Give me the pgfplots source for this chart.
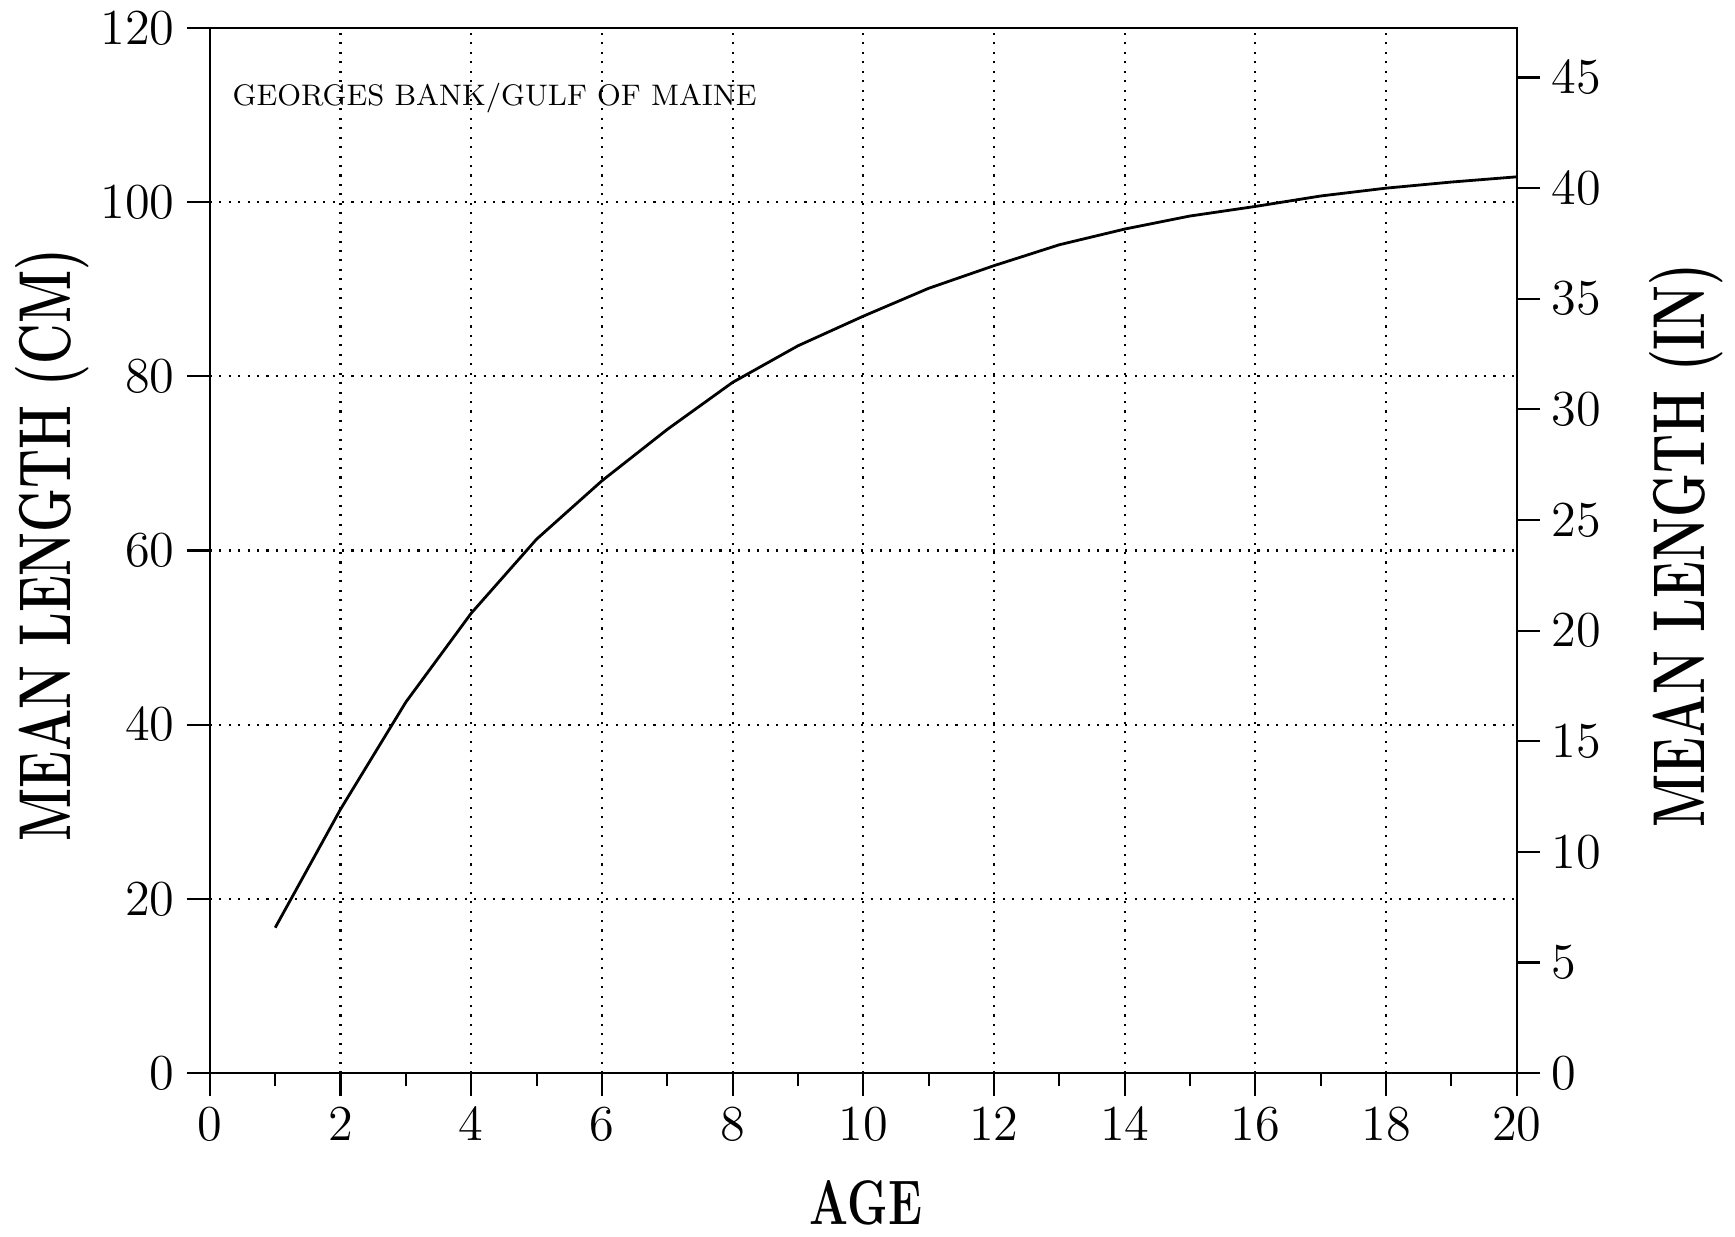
\documentclass[border=0pt]{standalone}
\usepackage{pgfplots}
\pgfplotsset{compat=1.18}
\usetikzlibrary{calc}

\pgfplotsset{
  twin/.style={
    width=131.4mm, height=105.1mm, scale only axis,
    xmin=0, xmax=20,
    tick align=outside,
    major tick length=2.3mm, minor tick length=1.3mm,
    tick style={black, line width=0.6pt},
    axis line style={line width=0.6pt},
    tick label style={font=\fontsize{14}{14}\selectfont},
  },
}

\begin{document}
\begin{tikzpicture}
\begin{axis}[twin, name=main,
  ymin=0, ymax=120,
  xtick={0,2,...,20}, ytick={0,20,...,120},
  minor x tick num=1,
  xtick pos=left, ytick pos=left,
  grid=major,
  major grid style={black, line width=0.6pt, dash pattern=on 0.6pt off 2.1pt},
  xlabel={\fontsize{18}{18}\selectfont\bfseries\scalebox{0.73}[1]{AGE}},
  xlabel style={at={(axis description cs:0.502,-0.124)}, anchor=center},
  ylabel={\fontsize{21}{21}\selectfont\bfseries\scalebox{0.68}[1]{MEAN LENGTH (CM)}},
  ylabel style={at={(axis description cs:-0.121,0.505)}, anchor=center},
]
\addplot[black, line width=0.8pt] coordinates {
  (1,16.7) (2,30.3) (3,42.6) (4,52.8) (5,61.3) (6,68.0) (7,73.9)
  (8,79.3) (9,83.5) (10,86.9) (11,90.1) (12,92.7) (13,95.1) (14,96.9)
  (15,98.4) (16,99.5) (17,100.7) (18,101.6) (19,102.3) (20,102.9)
};
\node[anchor=west, font=\fontsize{8.5}{8.5}\selectfont] at (axis description cs:0.008,0.933)
  {GEORGES BANK/GULF OF MAINE};
\end{axis}
\begin{axis}[twin,
  ymin=0, ymax=47.244,
  axis x line=none, axis y line*=right,
  ytick={0,5,...,45},
  ylabel={\fontsize{21}{21}\selectfont\bfseries\scalebox{0.68}[1]{MEAN LENGTH (IN)}},
  ylabel style={at={(axis description cs:1.130,0.505)}, anchor=center},
]
\end{axis}
\useasboundingbox ($(main.south west)+(-21.1mm,-15.6mm)$) rectangle ($(main.south west)+(152.4mm,107.9mm)$);
\end{tikzpicture}
\end{document}
